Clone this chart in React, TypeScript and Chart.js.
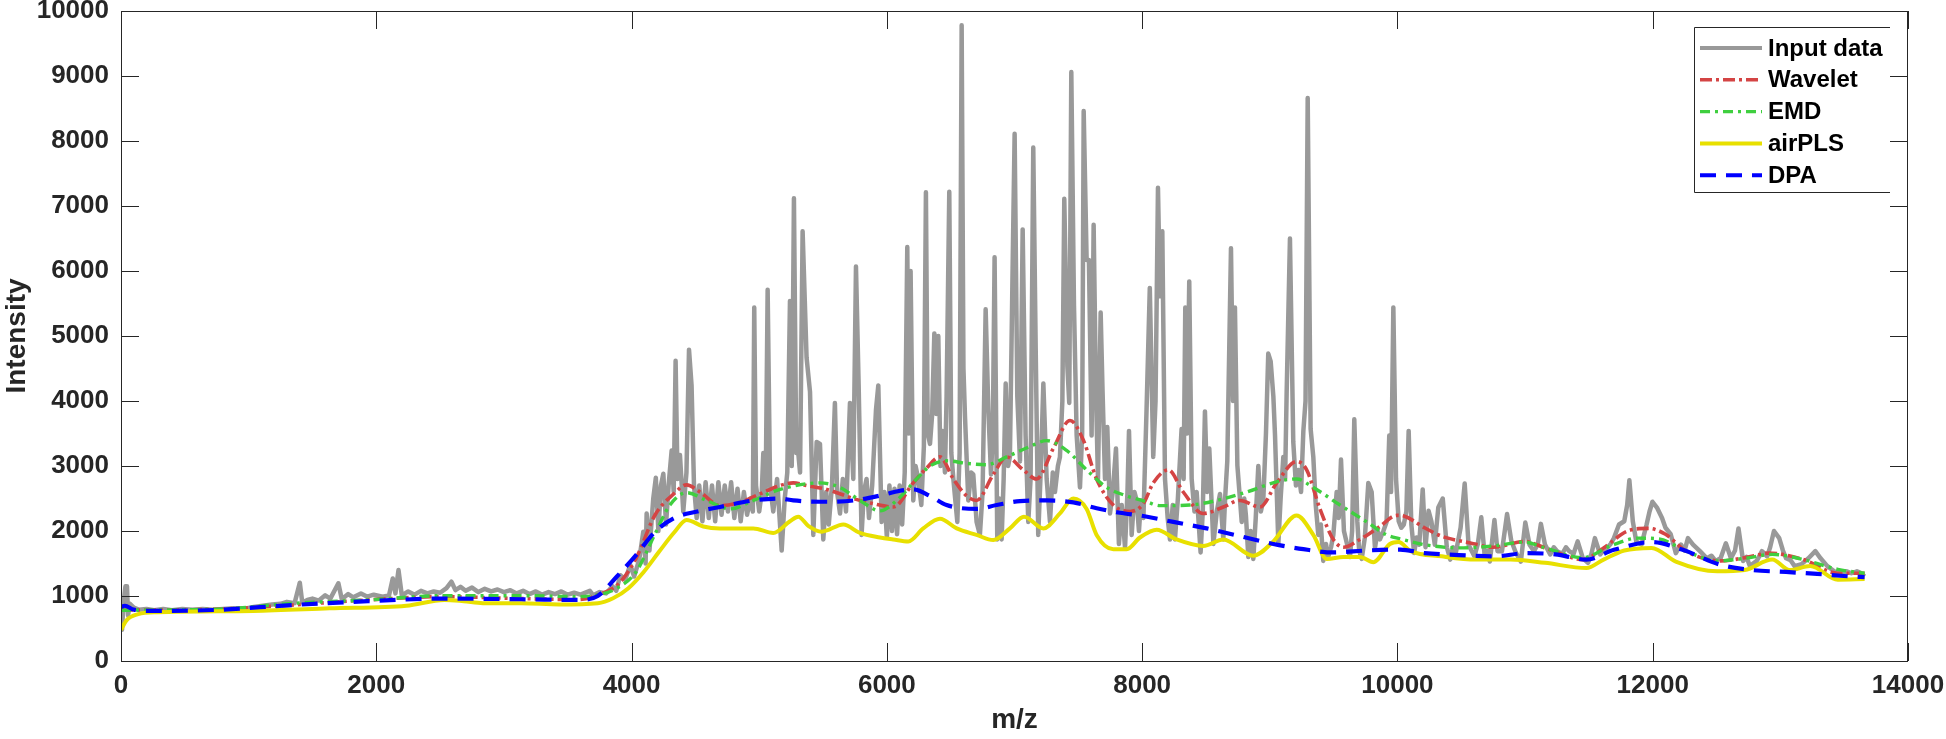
import React, { useEffect, useRef } from 'react';
import { Chart, registerables } from 'chart.js';

Chart.register(...registerables);

// ---------------- data ----------------
const xTickValues = [0, 2000, 4000, 6000, 8000, 10000, 12000, 14000];
const yTickValues = [0, 1000, 2000, 3000, 4000, 5000, 6000, 7000, 8000, 9000, 10000];
const seriesLabels = ['Input data', 'Wavelet', 'EMD', 'airPLS', 'DPA'];

const inputMz = [
  0, 8, 20, 35, 47, 55, 70, 100, 140, 200, 260, 330, 400, 480, 560, 640, 720, 800, 880, 960,
  1040, 1110, 1185, 1250, 1300, 1360, 1401, 1420, 1460, 1500, 1550, 1600, 1640, 1703, 1730, 1780, 1820, 1880, 1930, 1980,
  2050, 2100, 2129, 2150, 2174, 2200, 2250, 2300, 2350, 2400, 2450, 2500, 2550, 2589, 2620, 2660, 2700, 2750, 2800, 2850,
  2900, 2950, 3000, 3050, 3100, 3150, 3200, 3250, 3300, 3350, 3400, 3450, 3500, 3550, 3600, 3673, 3700, 3750, 3800, 3850,
  3880, 3912, 3950, 3990, 4020, 4060, 4092, 4110, 4118, 4140, 4170, 4190, 4210, 4230, 4249, 4270, 4290, 4314, 4330, 4345,
  4360, 4379, 4405, 4430, 4450, 4470, 4489, 4510, 4530, 4555, 4580, 4605, 4630, 4655, 4680, 4705, 4730, 4755, 4780, 4805,
  4830, 4855, 4880, 4905, 4930, 4950, 4961, 4975, 5000, 5020, 5032, 5050, 5066, 5085, 5110, 5140, 5176, 5200, 5220, 5241,
  5255, 5272, 5290, 5306, 5320, 5340, 5371, 5398, 5424, 5450, 5476, 5502, 5525, 5545, 5570, 5593, 5610, 5633, 5655, 5680,
  5711, 5737, 5758, 5779, 5802, 5820, 5841, 5860, 5885, 5915, 5933, 5959, 5980, 6000, 6020, 6040, 6060, 6080, 6100, 6120,
  6140, 6160, 6172, 6186, 6207, 6225, 6246, 6270, 6290, 6306, 6320, 6338, 6355, 6372, 6388, 6403, 6420, 6437, 6455, 6468,
  6489, 6505, 6521, 6552, 6570, 6586, 6600, 6612, 6638, 6660, 6677, 6703, 6729, 6750, 6774, 6795, 6816, 6830, 6844, 6865,
  6880, 6899, 6915, 6931, 6950, 6964, 6985, 7001, 7022, 7043, 7064, 7087, 7108, 7126, 7147, 7166, 7186, 7205, 7226, 7252,
  7278, 7300, 7317, 7340, 7356, 7375, 7390, 7414, 7429, 7445, 7466, 7487, 7513, 7530, 7542, 7565, 7583, 7604, 7620, 7638,
  7654, 7675, 7690, 7709, 7727, 7748, 7770, 7795, 7818, 7840, 7866, 7885, 7897, 7918, 7940, 7957, 7975, 7991, 8010, 8035,
  8060, 8087, 8105, 8124, 8140, 8158, 8179, 8200, 8218, 8240, 8257, 8280, 8309, 8325, 8338, 8352, 8369, 8388, 8410, 8427,
  8458, 8475, 8492, 8510, 8526, 8558, 8585, 8610, 8636, 8650, 8667, 8696, 8712, 8727, 8746, 8780, 8800, 8813, 8832, 8850,
  8871, 8890, 8910, 8930, 8949, 8970, 8988, 9007, 9028, 9041, 9067, 9085, 9106, 9120, 9132, 9158, 9184, 9205, 9223, 9245,
  9263, 9280, 9297, 9320, 9341, 9360, 9380, 9400, 9419, 9440, 9458, 9480, 9498, 9524, 9540, 9558, 9581, 9605, 9628, 9645,
  9662, 9686, 9700, 9720, 9745, 9772, 9798, 9824, 9845, 9863, 9890, 9915, 9936, 9950, 9968, 9989, 10010, 10030, 10050, 10070,
  10088, 10109, 10131, 10150, 10171, 10198, 10220, 10244, 10266, 10293, 10320, 10355, 10387, 10414, 10435, 10455, 10495, 10527, 10557, 10580,
  10603, 10630, 10657, 10684, 10705, 10724, 10760, 10784, 10819, 10859, 10892, 10927, 10967, 11002, 11035, 11070, 11100, 11124, 11156, 11197,
  11225, 11251, 11291, 11320, 11345, 11380, 11412, 11453, 11493, 11520, 11547, 11588, 11615, 11642, 11670, 11696, 11736, 11777, 11800, 11817,
  11844, 11871, 11912, 11952, 11975, 11998, 12033, 12073, 12100, 12141, 12181, 12222, 12250, 12276, 12316, 12370, 12424, 12460, 12492, 12532,
  12573, 12613, 12645, 12672, 12708, 12735, 12761, 12815, 12856, 12896, 12920, 12950, 12991, 13020, 13045, 13080, 13112, 13166, 13220, 13274,
  13315, 13368, 13422, 13476, 13520, 13557, 13600, 13625, 13660,
];
const inputIntensity = [
  850, 480, 900, 1150, 1150, 700, 880, 820, 790, 800, 780, 800, 780, 800, 790, 800, 790, 800, 810, 800,
  830, 850, 870, 880, 910, 890, 1205, 900, 940, 960, 930, 1010, 960, 1195, 950, 1030, 980, 1040, 990, 1020,
  990, 1010, 1270, 1040, 1400, 1010, 1070, 1020, 1080, 1040, 1070, 1050, 1120, 1220, 1090, 1140, 1080, 1130, 1060, 1110,
  1070, 1100, 1060, 1090, 1040, 1080, 1030, 1070, 1020, 1060, 1030, 1070, 1020, 1050, 1020, 1080, 1010, 1060, 1040, 1150,
  1080, 1320, 1250, 1480, 1300, 1560, 1990, 1500, 2270, 1700, 2500, 2820, 2000, 2700, 2880, 2100, 2700, 3240, 2600, 4620,
  2800, 3170, 2300, 2900, 4790, 4240, 2700, 2200, 2700, 2150, 2750, 2200, 2700, 2150, 2750, 2250, 2700, 2300, 2750, 2200,
  2650, 2150, 2600, 2250, 2500, 2300, 5440, 2700, 2300, 2600, 3200, 2500, 5710, 2700, 2300, 2800, 1700, 2500, 2900, 5540,
  3000, 7120, 3200, 3200, 2900, 6610, 4670, 4140, 1940, 3370, 3340, 1870, 2600, 2100, 2700, 3970, 2600, 2270, 2800, 2300,
  3970, 2800, 6070, 4240, 1940, 2600, 2800, 2200, 2700, 3870, 4240, 2140, 2600, 1900, 2700, 2000, 2650, 1950, 2700, 2100,
  2900, 6370, 3500, 6000, 2470, 3000, 2800, 2400, 3300, 7210, 3500, 3340, 3800, 5040, 3800, 5000, 3000, 3540, 2900, 4070,
  7220, 3200, 2800, 2140, 3200, 9780, 4500, 3770, 2470, 2900, 2870, 2140, 1940, 2600, 5410, 3870, 2870, 3500, 6210, 1870,
  2500, 1870, 2800, 4270, 3000, 3140, 6010, 8110, 4070, 3070, 6640, 3470, 2140, 2800, 7900, 4810, 1940, 2900, 4270, 2800,
  2140, 2900, 2600, 3000, 3140, 4000, 7110, 4540, 3970, 9060, 5470, 3470, 2670, 3500, 8460, 6170, 6170, 3470, 6710, 4140,
  2800, 5360, 4140, 2800, 3600, 2270, 2600, 3270, 1800, 2400, 1740, 2600, 3540, 1940, 2600, 2470, 2000, 2470, 2200, 3900,
  5740, 3140, 4000, 7280, 5610, 6610, 2800, 2200, 1870, 2400, 1870, 2500, 3570, 2800, 5440, 3500, 5840, 2800, 2300, 2600,
  1670, 2300, 3840, 2600, 3270, 1800, 2300, 2570, 1870, 2500, 3070, 6350, 4000, 5440, 3010, 2140, 2500, 2240, 1600, 2000,
  1570, 2200, 3000, 2300, 2470, 3500, 4730, 4610, 4070, 3470, 1800, 2500, 3140, 2800, 4110, 6500, 3370, 2700, 2940, 2600,
  3540, 4000, 8660, 3570, 3140, 2400, 1940, 2100, 1540, 1800, 1600, 1750, 1940, 2600, 2200, 3100, 2000, 1800, 1600, 2000,
  3720, 2140, 1700, 1570, 1900, 2740, 2600, 1740, 2000, 1870, 2000, 2140, 3470, 2600, 5440, 2800, 2150, 2050, 2100, 2300,
  3540, 2100, 1660, 1900, 1790, 2640, 1750, 2310, 2150, 1790, 2360, 2500, 1750, 1560, 1750, 1640, 2050, 2730, 1790, 1700,
  1610, 1800, 2210, 1610, 1700, 1530, 2170, 1690, 1690, 2260, 1850, 1670, 1530, 2130, 1790, 1690, 1800, 2110, 1790, 1640,
  1750, 1690, 1650, 1750, 1690, 1650, 1840, 1580, 1510, 1650, 1890, 1640, 1700, 1740, 1800, 1890, 2100, 2150, 2400, 2780,
  2150, 1840, 1790, 2100, 2300, 2450, 2360, 2200, 2050, 1950, 1660, 1790, 1700, 1890, 1790, 1690, 1580, 1620, 1540, 1580,
  1810, 1580, 1700, 2040, 1540, 1600, 1460, 1540, 1690, 1610, 1750, 2000, 1890, 1700, 1580, 1550, 1460, 1490, 1580, 1690,
  1580, 1460, 1380, 1350, 1380, 1350, 1380, 1360, 1300,
];

const waveletMz = [
  0, 150, 400, 800, 1335, 1935, 2535, 3135, 3585, 3735, 3900, 4035, 4185, 4330, 4431, 4536, 4692, 4849, 5006, 5163,
  5267, 5371, 5528, 5737, 5894, 6050, 6207, 6312, 6416, 6521, 6625, 6703, 6834, 6938, 7069, 7173, 7304, 7435, 7539, 7643,
  7774, 7905, 8009, 8087, 8205, 8322, 8479, 8636, 8766, 8923, 9054, 9210, 9289, 9393, 9498, 9576, 9706, 9863, 9994, 10050,
  10212, 10347, 10563, 10751, 10994, 11156, 11291, 11453, 11615, 11804, 11966, 12100, 12262, 12532, 12775, 12910, 13180, 13450, 13660,
];
const waveletBaseline = [
  780, 785, 785, 800, 860, 940, 990, 960, 945, 1015, 1190, 1580, 2250, 2570, 2710, 2600, 2390, 2440, 2570, 2700,
  2740, 2700, 2640, 2500, 2420, 2370, 2740, 2970, 3140, 2800, 2540, 2470, 2870, 3140, 2940, 2800, 3270, 3700, 3400, 2800,
  2400, 2300, 2420, 2740, 2940, 2600, 2270, 2370, 2470, 2370, 2740, 3070, 2940, 2340, 1870, 1750, 1870, 2070, 2240, 2230,
  2050, 1920, 1820, 1750, 1840, 1740, 1640, 1560, 1740, 2000, 2040, 1950, 1690, 1540, 1610, 1660, 1560, 1350, 1350,
];

const emdMz = [
  0, 285, 800, 1335, 1935, 2535, 3135, 3585, 3735, 3885, 4035, 4185, 4301, 4431, 4588, 4771, 4954, 5163, 5476, 5633,
  5789, 5946, 6077, 6233, 6338, 6468, 6625, 6782, 6938, 7121, 7252, 7408, 7565, 7722, 7879, 8035, 8140, 8375, 8584, 8819,
  9080, 9210, 9341, 9550, 9759, 9915, 10020, 10212, 10482, 10751, 10994, 11156, 11453, 11669, 11885, 12046, 12262, 12505, 12721, 12937,
  13180, 13450, 13660,
];
const emdBaseline = [
  780, 785, 800, 885, 940, 1005, 1005, 990, 1015, 1120, 1370, 1960, 2400, 2590, 2470, 2340, 2470, 2640, 2740, 2670,
  2470, 2310, 2470, 2800, 3000, 3080, 3040, 3020, 3140, 3300, 3390, 3240, 2940, 2670, 2540, 2450, 2390, 2400, 2470, 2600,
  2770, 2800, 2670, 2400, 2140, 1940, 1880, 1790, 1740, 1770, 1830, 1740, 1590, 1770, 1890, 1880, 1690, 1540, 1580, 1640,
  1560, 1410, 1350,
];

const airplsMz = [
  0, 45, 135, 285, 1035, 1635, 2235, 2535, 2685, 2835, 3135, 3435, 3735, 3855, 3975, 4095, 4215, 4335, 4431, 4562,
  4692, 4954, 5110, 5241, 5306, 5384, 5489, 5659, 5789, 5946, 6050, 6168, 6285, 6416, 6547, 6703, 6834, 6964, 7074, 7226,
  7356, 7461, 7565, 7643, 7774, 7879, 7983, 8114, 8270, 8479, 8636, 8871, 9028, 9210, 9341, 9446, 9576, 9706, 9811, 9941,
  10009, 10104, 10347, 10617, 10886, 11156, 11480, 11615, 11777, 11992, 12181, 12505, 12721, 12937, 13072, 13234, 13450, 13660,
];
const airplsBaseline = [
  480, 630, 720, 750, 770, 810, 850, 940, 920, 890, 890, 870, 890, 965, 1120, 1370, 1680, 1980, 2170, 2070,
  2040, 2040, 1970, 2150, 2220, 2080, 1990, 2100, 1970, 1900, 1870, 1840, 2040, 2190, 2040, 1940, 1860, 2040, 2220, 2040,
  2270, 2500, 2340, 1940, 1720, 1720, 1900, 2020, 1870, 1770, 1870, 1620, 1840, 2240, 1940, 1570, 1600, 1600, 1520, 1800,
  1830, 1690, 1610, 1560, 1560, 1510, 1430, 1560, 1700, 1740, 1530, 1380, 1400, 1560, 1400, 1460, 1250, 1260,
];

const dpaMz = [
  0, 30, 100, 285, 735, 1335, 1935, 2535, 3135, 3585, 3735, 3885, 4035, 4185, 4335, 4515, 4692, 4954, 5163, 5267,
  5476, 5737, 5946, 6103, 6207, 6338, 6468, 6703, 6860, 7043, 7252, 7461, 7643, 7826, 8009, 8244, 8505, 8766, 9028, 9263,
  9498, 9759, 10020, 10212, 10482, 10751, 11021, 11237, 11480, 11696, 11992, 12235, 12532, 12775, 13045, 13288, 13557, 13660,
];
const dpaBaseline = [
  830, 850, 790, 770, 785, 860, 920, 960, 950, 940, 1000, 1300, 1630, 1990, 2200, 2300, 2370, 2470, 2500, 2470,
  2450, 2470, 2545, 2620, 2640, 2540, 2400, 2340, 2400, 2460, 2470, 2440, 2350, 2280, 2230, 2140, 2040, 1920, 1800, 1720,
  1670, 1700, 1715, 1660, 1630, 1610, 1660, 1640, 1560, 1710, 1830, 1710, 1480, 1400, 1370, 1340, 1300, 1290,
];

// ---------------- styles ----------------
const AXIS_COLOR = '#262626';
const FONT_FAMILY = '"Liberation Sans", Arial, Helvetica, sans-serif';
const TICK_LEN = 18;

const toPoints = (xs: number[], ys: number[]) => xs.map((x, i) => ({ x, y: ys[i] }));

const framePlugin = {
  id: 'matlabFrame',
  afterDatasetsDraw(chart: any) {
    const { ctx, chartArea } = chart;
    const { left, right, top, bottom } = chartArea;
    const xs = chart.scales.x;
    const ys = chart.scales.y;
    ctx.save();
    ctx.strokeStyle = AXIS_COLOR;
    ctx.lineWidth = 1;
    ctx.setLineDash([]);
    ctx.strokeRect(left + 0.5, top + 0.5, right - left - 1, bottom - top);
    ctx.beginPath();
    for (const v of xTickValues) {
      const px = Math.round(xs.getPixelForValue(v)) + 0.5;
      ctx.moveTo(px, bottom);
      ctx.lineTo(px, bottom - TICK_LEN);
      ctx.moveTo(px, top);
      ctx.lineTo(px, top + TICK_LEN);
    }
    for (const v of yTickValues) {
      const py = Math.round(ys.getPixelForValue(v)) + 0.5;
      ctx.moveTo(left, py);
      ctx.lineTo(left + TICK_LEN, py);
      ctx.moveTo(right, py);
      ctx.lineTo(right - TICK_LEN, py);
    }
    ctx.stroke();

    // legend
    const lx = 1694;
    const ly = 27;
    const lw = 196;
    const lh = 165;
    ctx.fillStyle = '#ffffff';
    ctx.fillRect(lx, ly, lw, lh);
    ctx.beginPath();
    ctx.moveTo(lx + lw, ly + 0.5);
    ctx.lineTo(lx + 0.5, ly + 0.5);
    ctx.lineTo(lx + 0.5, ly + lh + 0.5);
    ctx.lineTo(lx + lw, ly + lh + 0.5);
    ctx.stroke();
    ctx.font = `bold 24px ${FONT_FAMILY}`;
    ctx.textBaseline = 'middle';
    ctx.textAlign = 'left';
    chart.data.datasets.forEach((ds: any, i: number) => {
      const cy = ly + 21 + i * 31.8;
      ctx.save();
      ctx.strokeStyle = ds.borderColor;
      ctx.lineWidth = Math.min(ds.borderWidth, 4);
      ctx.setLineDash(ds.borderDash || []);
      ctx.beginPath();
      ctx.moveTo(lx + 6, cy);
      ctx.lineTo(lx + 68, cy);
      ctx.stroke();
      ctx.restore();
      ctx.fillStyle = '#000000';
      ctx.fillText(seriesLabels[i], lx + 74, cy + 1);
    });
    ctx.restore();
  },
};

export default function App() {
  const canvasRef = useRef<HTMLCanvasElement | null>(null);

  useEffect(() => {
    const canvas = canvasRef.current;
    if (!canvas) return;
    const tickFont = { family: FONT_FAMILY, size: 26, weight: 'bold' as const };
    const titleFont = { family: FONT_FAMILY, size: 28, weight: 'bold' as const };
    const chart = new Chart(canvas, {
      type: 'line',
      data: {
        datasets: [
          {
            label: seriesLabels[0],
            data: toPoints(inputMz, inputIntensity),
            borderColor: '#999999',
            borderWidth: 4.5,
            tension: 0,
            pointRadius: 0,
            borderJoinStyle: 'round',
            order: 5,
          },
          {
            label: seriesLabels[1],
            data: toPoints(waveletMz, waveletBaseline),
            borderColor: '#d44444',
            borderWidth: 3.6,
            borderDash: [12, 4, 3, 4],
            cubicInterpolationMode: 'monotone',
            pointRadius: 0,
            order: 4,
          },
          {
            label: seriesLabels[2],
            data: toPoints(emdMz, emdBaseline),
            borderColor: '#3fcf3f',
            borderWidth: 3.4,
            borderDash: [10, 5, 3, 5],
            cubicInterpolationMode: 'monotone',
            pointRadius: 0,
            order: 3,
          },
          {
            label: seriesLabels[3],
            data: toPoints(airplsMz, airplsBaseline),
            borderColor: '#e8e000',
            borderWidth: 4,
            cubicInterpolationMode: 'monotone',
            pointRadius: 0,
            order: 2,
          },
          {
            label: seriesLabels[4],
            data: toPoints(dpaMz, dpaBaseline),
            borderColor: '#0000ff',
            borderWidth: 4.2,
            borderDash: [16, 10],
            cubicInterpolationMode: 'monotone',
            pointRadius: 0,
            order: 1,
          },
        ],
      },
      options: {
        responsive: false,
        animation: false,
        devicePixelRatio: 1,
        layout: { padding: { left: 0, right: 38, top: 11, bottom: 0 } },
        plugins: { legend: { display: false }, tooltip: { enabled: false } },
        elements: { point: { radius: 0 } },
        scales: {
          x: {
            type: 'linear',
            min: 0,
            max: 14000,
            grid: { display: false, drawTicks: false },
            border: { display: false },
            ticks: {
              stepSize: 2000,
              autoSkip: false,
              maxRotation: 0,
              padding: 9,
              color: AXIS_COLOR,
              font: tickFont,
              callback: (v: any) => String(v),
            },
            title: {
              display: true,
              text: 'm/z',
              color: AXIS_COLOR,
              font: titleFont,
              padding: { top: 0, bottom: 2 },
            },
            afterFit: (s: any) => {
              s.height = 78;
              s.paddingLeft = 0;
              s.paddingRight = 0;
            },
          },
          y: {
            type: 'linear',
            min: 0,
            max: 10000,
            grid: { display: false, drawTicks: false },
            border: { display: false },
            ticks: {
              stepSize: 1000,
              padding: 12,
              color: AXIS_COLOR,
              font: tickFont,
              callback: (v: any) => String(v),
            },
            title: {
              display: true,
              text: 'Intensity',
              color: AXIS_COLOR,
              font: titleFont,
              padding: { top: 0, bottom: 0 },
            },
            afterFit: (s: any) => {
              s.width = 121;
              s.paddingTop = 0;
              s.paddingBottom = 0;
            },
          },
        },
      },
      plugins: [framePlugin],
    });
    return () => chart.destroy();
  }, []);

  return (
    <div style={{ position: 'absolute', left: 0, top: 0, width: 1946, height: 739, background: '#ffffff' }}>
      <canvas ref={canvasRef} width={1946} height={739} style={{ display: 'block' }} />
    </div>
  );
}
